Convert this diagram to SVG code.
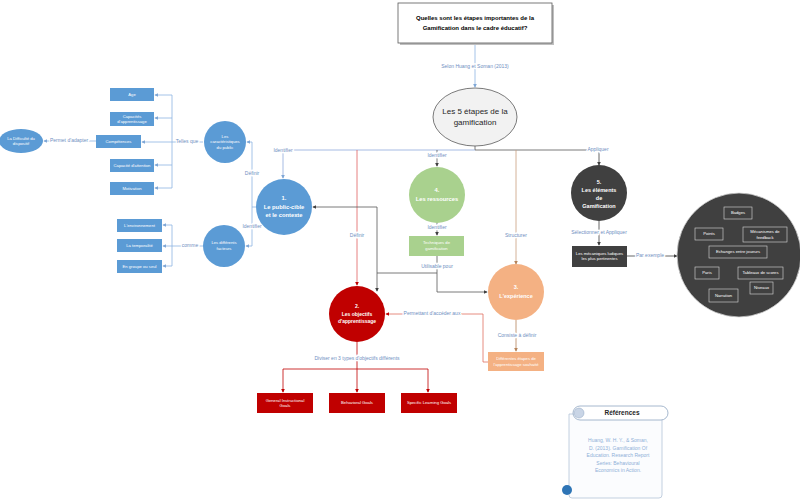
<svg xmlns="http://www.w3.org/2000/svg" width="800" height="499" viewBox="0 0 800 499">
<defs>
<style>
text{font-family:"Liberation Sans","Open Sans",sans-serif;}
.lbl{font-size:5px;fill:#6f8fbf;text-anchor:middle;dominant-baseline:middle;stroke:#fff;stroke-width:2.5px;paint-order:stroke;}
.wt{fill:#fff;text-anchor:middle;dominant-baseline:middle;}
.nb{font-size:5.8px;font-weight:bold;}
.sm{font-size:4.2px;}
.bx{fill:#fff;text-anchor:middle;dominant-baseline:middle;font-size:4.2px;}
.blue{fill:#5b9bd5;}
.ln{fill:none;stroke-width:0.8;}
</style>
<marker id="aB" viewBox="0 0 6 6" refX="5" refY="3" markerWidth="5" markerHeight="5" orient="auto"><path d="M0,0L6,3L0,6z" fill="#7fa7d6"/></marker>
<marker id="aD" viewBox="0 0 6 6" refX="5" refY="3" markerWidth="5" markerHeight="5" orient="auto"><path d="M0,0L6,3L0,6z" fill="#404040"/></marker>
<marker id="aR" viewBox="0 0 6 6" refX="5" refY="3" markerWidth="5" markerHeight="5" orient="auto"><path d="M0,0L6,3L0,6z" fill="#c00000"/></marker>
<marker id="aO" viewBox="0 0 6 6" refX="5" refY="3" markerWidth="5" markerHeight="5" orient="auto"><path d="M0,0L6,3L0,6z" fill="#b5835a"/></marker>
</defs>
<rect width="800" height="499" fill="#fff"/>

<g id="connectors">
<path class="ln" d="M475,44V87" stroke="#8db4e2" marker-end="url(#aB)"/>
<path class="ln" d="M475,146V150" stroke="#595959"/>
<path class="ln" d="M283,150H475" stroke="#8faadc"/>
<path class="ln" d="M475,150H599" stroke="#595959"/>
<path class="ln" d="M283,150V178" stroke="#8faadc" marker-end="url(#aB)"/>
<path class="ln" d="M357,150V285" stroke="#e06060" marker-end="url(#aR)"/>
<path class="ln" d="M437,150V166" stroke="#595959" marker-end="url(#aD)"/>
<path class="ln" d="M516,150V264" stroke="#c9a07e" marker-end="url(#aO)"/>
<path class="ln" d="M599,150V165" stroke="#404040" marker-end="url(#aD)"/>
<path class="ln" d="M257,207H252" stroke="#8db4e2"/>
<path class="ln" d="M252,207V142H247" stroke="#8db4e2" marker-end="url(#aB)"/>
<path class="ln" d="M252,207V246H246" stroke="#8db4e2" marker-end="url(#aB)"/>
<path class="ln" d="M203,142H172" stroke="#8db4e2"/>
<path class="ln" d="M172,95V188" stroke="#8db4e2"/>
<path class="ln" d="M172,95H155" stroke="#8db4e2" marker-end="url(#aB)"/>
<path class="ln" d="M172,118H155" stroke="#8db4e2" marker-end="url(#aB)"/>
<path class="ln" d="M172,142H142" stroke="#8db4e2" marker-end="url(#aB)"/>
<path class="ln" d="M172,165H155" stroke="#8db4e2" marker-end="url(#aB)"/>
<path class="ln" d="M172,188H155" stroke="#8db4e2" marker-end="url(#aB)"/>
<path class="ln" d="M96,141H44" stroke="#8db4e2" marker-end="url(#aB)"/>
<path class="ln" d="M203,246H172" stroke="#8db4e2"/>
<path class="ln" d="M172,225V266" stroke="#8db4e2"/>
<path class="ln" d="M172,225H163" stroke="#8db4e2" marker-end="url(#aB)"/>
<path class="ln" d="M172,246H163" stroke="#8db4e2" marker-end="url(#aB)"/>
<path class="ln" d="M172,266H163" stroke="#8db4e2" marker-end="url(#aB)"/>
<path class="ln" d="M437,222V235" stroke="#595959" marker-end="url(#aD)"/>
<path class="ln" d="M437,256V292H487" stroke="#595959" marker-end="url(#aD)"/>
<path class="ln" d="M437,273H377V207H313" stroke="#595959" marker-end="url(#aD)"/>
<path class="ln" d="M377,273V291" stroke="#595959" marker-end="url(#aD)"/>
<path class="ln" d="M516,320V351" stroke="#b5835a" marker-end="url(#aO)"/>
<path class="ln" d="M488,362H483V314H386" stroke="#e07060" marker-end="url(#aR)"/>
<path class="ln" d="M357,342V369" stroke="#c00000"/>
<path class="ln" d="M283,369H428" stroke="#c00000"/>
<path class="ln" d="M283,369V392" stroke="#c00000" marker-end="url(#aR)"/>
<path class="ln" d="M357,369V392" stroke="#c00000" marker-end="url(#aR)"/>
<path class="ln" d="M428,369V392" stroke="#c00000" marker-end="url(#aR)"/>
<path class="ln" d="M599,221V245" stroke="#404040" marker-end="url(#aD)"/>
<path class="ln" d="M627,256H677" stroke="#404040" marker-end="url(#aD)"/>
<text class="lbl" x="475" y="67">Selon Huang et Soman (2013)</text>
<text class="lbl" x="283" y="151">Identifier</text>
<text class="lbl" x="437" y="156">Identifier</text>
<text class="lbl" x="598" y="150">Appliquer</text>
<text class="lbl" x="252" y="174">Définir</text>
<text class="lbl" x="252" y="227">Identifier</text>
<text class="lbl" x="187" y="142">Telles que</text>
<text class="lbl" x="69" y="141">Permet d'adapter</text>
<text class="lbl" x="190" y="246">comme</text>
<text class="lbl" x="357" y="236">Définir</text>
<text class="lbl" x="516" y="236">Structurer</text>
<text class="lbl" x="437" y="228">Identifier</text>
<text class="lbl" x="437" y="267">Utilisable pour</text>
<text class="lbl" x="599" y="233">Sélectionner et Appliquer</text>
<text class="lbl" x="650" y="256">Par exemple</text>
<text class="lbl" x="432" y="314">Permettant d'accéder aux</text>
<text class="lbl" x="517" y="336">Consiste à définir</text>
<text class="lbl" x="357" y="359">Diviser en 3 types d'objectifs différents</text>
</g>

<g id="title">
<rect x="400" y="5" width="154" height="40" fill="#bfbfbf"/>
<rect x="398" y="3" width="154" height="40" fill="#fff" stroke="#595959" stroke-width="0.8"/>
<text x="475" y="20" text-anchor="middle" font-size="6" font-weight="bold" fill="#000">Quelles sont les étapes importantes de la</text>
<text x="475" y="30" text-anchor="middle" font-size="6" font-weight="bold" fill="#000">Gamification dans le cadre éducatif?</text>
</g>

<g id="etapes">
<ellipse cx="475" cy="117" rx="42" ry="29" fill="#f2f2f2" stroke="#595959" stroke-width="0.8"/>
<text x="475" y="114" text-anchor="middle" font-size="8" fill="#262626">Les 5 étapes de la</text>
<text x="475" y="125" text-anchor="middle" font-size="8" fill="#262626">gamification</text>
</g>

<g id="node1">
<circle cx="284" cy="207" r="28" class="blue"/>
<text class="wt nb" x="284" y="198">1.</text>
<text class="wt nb" x="284" y="207">Le public-cible</text>
<text class="wt nb" x="284" y="215.5">et le contexte</text>
</g>

<g id="caracteristiques">
<circle cx="225" cy="142" r="21" class="blue"/>
<text class="wt sm" x="225" y="137">Les</text>
<text class="wt sm" x="225" y="142">caractéristiques</text>
<text class="wt sm" x="225" y="148">du public</text>
</g>

<g id="facteurs">
<circle cx="224" cy="246" r="21" class="blue"/>
<text class="wt sm" x="224" y="243">Les différents</text>
<text class="wt sm" x="224" y="249">facteurs</text>
</g>

<g id="age"><rect x="110" y="88" width="44" height="13" class="blue"/><text class="bx" x="132" y="95">Age</text></g>
<g id="capacites"><rect x="110" y="112" width="44" height="14" class="blue"/><text class="bx" x="132" y="116.5">Capacités</text><text class="bx" x="132" y="121.5">d'apprentissage</text></g>
<g id="competences"><rect x="96" y="135" width="45" height="13" class="blue"/><text class="bx" x="118.5" y="142">Compétences</text></g>
<g id="attention"><rect x="110" y="159" width="44" height="13" class="blue"/><text class="bx" x="132" y="165.5">Capacité d'attention</text></g>
<g id="motivation"><rect x="110" y="182" width="44" height="13" class="blue"/><text class="bx" x="132" y="188.5">Motivation</text></g>
<g id="difficulte"><ellipse cx="21" cy="141" rx="22" ry="12" class="blue"/><text class="bx" x="21" y="138.5">La Difficulté du</text><text class="bx" x="21" y="143.5">dispositif</text></g>

<g id="environnement"><rect x="117" y="219" width="45" height="13" class="blue"/><text class="bx" x="139.5" y="225.5">L'environnement</text></g>
<g id="temporalite"><rect x="117" y="239" width="45" height="13" class="blue"/><text class="bx" x="139.5" y="245.5">La temporalité</text></g>
<g id="groupe"><rect x="117" y="260" width="45" height="13" class="blue"/><text class="bx" x="139.5" y="266.5">En groupe ou seul</text></g>

<g id="node4">
<circle cx="437" cy="195" r="28" fill="#a9d18e"/>
<text class="wt nb" x="437" y="190">4.</text>
<text class="wt nb" x="437" y="199">Les ressources</text>
</g>
<g id="techniques"><rect x="409" y="236" width="55" height="20" fill="#a9d18e"/><text class="bx" x="436.5" y="243">Techniques de</text><text class="bx" x="436.5" y="248.5">gamification</text></g>

<g id="node2">
<circle cx="357" cy="314" r="28" fill="#c00000"/>
<text class="wt nb" x="357" y="307" style="font-size:5px">2.</text>
<text class="wt nb" x="357" y="314.5" style="font-size:5px">Les objectifs</text>
<text class="wt nb" x="357" y="322" style="font-size:5px">d'apprentissage</text>
</g>

<g id="node3">
<circle cx="516" cy="292" r="28" fill="#f4b183"/>
<text class="wt nb" x="516" y="288" style="font-size:5.5px">3.</text>
<text class="wt nb" x="516" y="297" style="font-size:5.5px">L'expérience</text>
</g>
<g id="etapesappr"><rect x="488" y="352" width="56" height="19" fill="#f4b183"/><text class="bx" x="516" y="359">Différentes étapes de</text><text class="bx" x="516" y="364.5">l'apprentissage souhaité</text></g>

<g id="general"><rect x="257" y="393" width="56" height="20" fill="#c00000"/><text class="bx" x="285" y="400.5">General Instructional</text><text class="bx" x="285" y="406">Goals</text></g>
<g id="behavioral"><rect x="329" y="393" width="56" height="20" fill="#c00000"/><text class="bx" x="357" y="403">Behavioral Goals</text></g>
<g id="specific"><rect x="401" y="393" width="56" height="20" fill="#c00000"/><text class="bx" x="429" y="403">Specific Learning Goals</text></g>

<g id="node5">
<circle cx="599" cy="193" r="28" fill="#404040"/>
<text class="wt nb" x="599" y="182.5" style="font-size:5.5px">5.</text>
<text class="wt nb" x="599" y="190.5" style="font-size:5.5px">Les éléments</text>
<text class="wt nb" x="599" y="198.5" style="font-size:5.5px">de</text>
<text class="wt nb" x="599" y="206.5" style="font-size:5.5px">Gamification</text>
</g>
<g id="mecaniques"><rect x="572" y="246" width="55" height="21" fill="#404040"/><text class="bx" x="599.5" y="253.5">Les mécaniques ludiques</text><text class="bx" x="599.5" y="259">les plus pertinentes</text></g>

<g id="exemples">
<circle cx="739" cy="255" r="62" fill="#404040" stroke="#d0d0d0" stroke-width="0.8"/>
<g fill="none" stroke="#d9d9d9" stroke-width="0.6">
<rect x="724" y="207" width="28" height="12"/>
<rect x="695" y="228" width="28" height="12"/>
<rect x="743" y="227" width="44" height="15"/>
<rect x="709" y="246" width="58" height="12"/>
<rect x="695" y="267" width="24" height="12"/>
<rect x="738" y="267" width="45" height="12"/>
<rect x="750" y="282" width="23" height="12"/>
<rect x="709" y="289" width="29" height="13"/>
</g>
<text class="bx" x="738" y="213">Badges</text>
<text class="bx" x="709" y="234">Points</text>
<text class="bx" x="765" y="232">Mécanismes de</text>
<text class="bx" x="765" y="237.5">feedback</text>
<text class="bx" x="738" y="252">Echanges entre joueurs</text>
<text class="bx" x="707" y="273">Paris</text>
<text class="bx" x="760.5" y="273">Tableaux de scores</text>
<text class="bx" x="761.5" y="288">Niveaux</text>
<text class="bx" x="723.5" y="295.5">Narration</text>
</g>

<g id="references">
<path d="M569,414H662V495Q662,498 659,498H572Q569,498 569,495Z" fill="#fbfcfe" stroke="#b4c4d8" stroke-width="0.8"/>
<rect x="573" y="406" width="95" height="14" rx="7" fill="#fff" stroke="#8fa6c2" stroke-width="0.8"/>
<circle cx="579" cy="413" r="5" fill="#c9d5e6" stroke="#8fa6c2" stroke-width="0.5"/>
<circle cx="567" cy="490" r="5" fill="#2e75b6"/>
<text x="622" y="415" text-anchor="middle" font-size="6.5" font-weight="bold" fill="#262626">Références</text>
<g font-size="5" fill="#8fb0d8" text-anchor="middle">
<text x="618" y="442">Huang, W. H. Y., &amp; Soman,</text>
<text x="618" y="449.5">D. (2013). Gamification Of</text>
<text x="618" y="457">Education. Research Report</text>
<text x="618" y="464.5">Series: Behavioural</text>
<text x="618" y="472">Economics in Action.</text>
</g>
</g>
</svg>
